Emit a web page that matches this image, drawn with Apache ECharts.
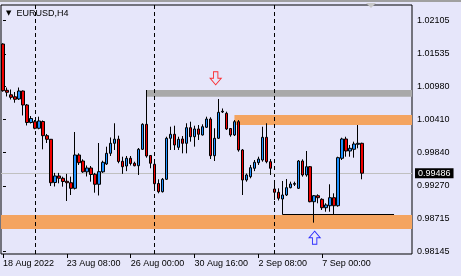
<!DOCTYPE html>
<html>
<head>
<meta charset="utf-8">
<script src="https://cdn.jsdelivr.net/npm/echarts@6/dist/echarts.min.js"></script>
<style>
html,body{margin:0;padding:0;background:#E6E6FA;}
#chart{width:461px;height:276px;}
</style>
</head>
<body>
<div id="chart"></div>
<script>
// EURUSD H4 bars, 18 Aug 2022 16:00 .. 8 Sep 2022 16:00
var barOpen = [1.01704,1.00909,1.00832,1.00798,1.00760,1.00897,1.00657,1.00356,1.00370,1.00257,
    1.00373,1.00130,1.00068,0.99326,0.99438,0.99398,0.99347,0.99322,0.99226,0.99798,
    0.99695,0.99509,0.99575,0.99467,0.99295,0.99509,0.99644,0.99827,0.99999,1.00070,
    0.99690,0.99609,0.99742,0.99656,0.99614,0.99896,1.00325,0.99790,0.99639,0.99309,
    0.99168,0.99381,1.00085,1.00154,0.99930,1.00073,0.99999,1.00267,1.00112,1.00245,
    1.00142,1.00274,1.00416,0.99786,1.00085,1.00537,1.00514,1.00253,1.00142,1.00370,
    0.99884,0.99369,0.99426,0.99570,0.99666,0.99712,1.00102,0.99683,0.99214,0.99158,
    0.99043,0.99111,0.99237,0.99295,0.99226,0.99695,0.99455,0.99597,0.98996,0.99099,
    0.99037,0.98893,0.98927,0.99065,0.98927,0.99742,1.00073,0.99867,0.99896,0.99982,
    0.99999];
var barClose = [1.00902,1.00875,1.00789,1.00755,1.00897,1.00657,1.00356,1.00425,1.00257,1.00382,
    1.00130,1.00068,0.99322,0.99438,0.99398,0.99343,0.99322,0.99226,0.99798,0.99666,
    0.99509,0.99575,0.99463,0.99295,0.99512,0.99673,0.99827,0.99999,1.00070,0.99687,
    0.99597,0.99742,0.99652,0.99614,0.99896,1.00325,0.99781,0.99656,0.99305,0.99168,
    0.99381,1.00085,1.00154,0.99970,1.00068,0.99999,1.00267,1.00112,1.00245,1.00154,
    1.00284,1.00416,0.99786,1.00085,1.00531,1.00549,1.00245,1.00142,1.00370,0.99884,
    0.99369,0.99455,0.99580,0.99673,0.99729,1.00102,0.99683,0.99570,0.99158,0.99055,
    0.99111,0.99237,0.99300,0.99309,0.99695,0.99455,0.99597,0.98996,0.99099,0.99065,
    0.98893,0.98940,0.99065,0.98927,0.99752,1.00073,0.99867,0.99913,0.99987,0.99999,
    0.99486];
var barLow = [1.00885,1.00803,1.00751,1.00696,1.00743,1.00477,1.00305,1.00339,1.00240,1.00240,
    0.99896,1.00004,0.99266,0.99257,0.99312,0.99254,0.99008,0.99111,0.99206,0.99627,
    0.99491,0.99429,0.99340,0.99151,0.99103,0.99491,0.99627,0.99781,0.99884,0.99656,
    0.99474,0.99521,0.99618,0.99604,0.99455,0.99884,0.99752,0.99570,0.99237,0.99140,
    0.99154,0.99369,0.99884,0.99884,0.99884,0.99827,0.99827,1.00027,0.99941,1.00056,
    1.00133,1.00262,0.99729,0.99695,1.00073,1.00520,1.00228,1.00112,1.00124,0.99855,
    0.99111,0.99340,0.99398,0.99521,0.99627,0.99683,0.99656,0.99455,0.99025,0.99017,
    0.98780,0.99094,0.99226,0.99266,0.99214,0.99426,0.99426,0.98986,0.98636,0.98969,
    0.98854,0.98824,0.98824,0.98768,0.98910,0.99712,0.99769,0.99769,0.99752,0.99913,
    0.99381];
var barHigh = [1.01716,1.00957,1.00923,1.00880,1.00957,1.00906,1.00674,1.00468,1.00399,1.00456,
    1.00391,1.00159,1.00073,0.99491,0.99491,0.99426,0.99474,0.99426,1.00193,0.99827,
    0.99724,0.99618,0.99609,0.99491,1.00004,0.99700,0.99941,1.00099,1.00343,1.00130,
    0.99769,0.99781,0.99781,0.99683,0.99918,1.00343,1.00914,0.99798,0.99661,0.99381,
    0.99403,1.00112,1.00284,1.00301,1.00112,1.00124,1.00343,1.00370,1.00301,1.00313,
    1.00325,1.00456,1.00446,1.00257,1.00760,1.00597,1.00542,1.00262,1.00399,1.00399,
    0.99901,0.99481,0.99627,0.99712,0.99769,1.00284,1.00343,0.99729,0.99369,0.99226,
    0.99352,0.99386,0.99340,0.99340,0.99712,0.99724,0.99867,0.99609,0.99111,0.99123,
    0.99055,0.98969,0.99295,0.99140,0.99769,1.00095,1.00112,0.99970,1.00027,1.00313,
    1.00009];

var priceTicks = [0.98145,0.98715,0.99270,0.99840,1.00410,1.00980,1.01535,1.02105];
var bidPrice = 0.99486;
var weekStarts = [8, 38, 68];          // bar index of each Monday 00:00
var zoneFrom = [36, 58, -0.5];         // rectangles (bar index where they start)
var zoneHigh = [1.00915, 1.00485, 0.98768];
var zoneLow = [1.00800, 1.00313, 0.98527];
var arrowBar = [53.3, 78.1];
var arrowPrice = [1.01115, 0.98378];
var supportFrom = 70, supportTo = 98, supportPrice = 0.98780;
var emptySlots = 12;

var months = ['Jan','Feb','Mar','Apr','May','Jun','Jul','Aug','Sep','Oct','Nov','Dec'];
var categories = [];
var t = Date.UTC(2022, 7, 18, 16);
while (categories.length < barOpen.length) {
    var d = new Date(t);
    var wd = d.getUTCDay();
    if (wd !== 0 && wd !== 6) {
        var hh = d.getUTCHours();
        if (categories.length === 0) {
            categories.push(d.getUTCDate() + ' ' + months[d.getUTCMonth()] + ' ' + d.getUTCFullYear());
        } else {
            categories.push(d.getUTCDate() + ' ' + months[d.getUTCMonth()] + ' ' + (hh < 10 ? '0' : '') + hh + ':00');
        }
    }
    t += 4 * 3600 * 1000;
}
for (var i = 0; i < emptySlots; i++) categories.push('');

var candles = [];
for (var i = 0; i < barOpen.length; i++) {
    candles.push([barOpen[i], barClose[i], barLow[i], barHigh[i]]);
}

var zoneColors = ['#A9A9A9', '#F4A460', '#F4A460'];
var zones = [];
for (var i = 0; i < zoneFrom.length; i++) {
    zones.push([
        {xAxis: zoneFrom[i], yAxis: zoneHigh[i], itemStyle: {color: zoneColors[i], opacity: 1}},
        {xAxis: categories.length - 0.5, yAxis: zoneLow[i]}
    ]);
}

var downArrow = 'path://M3,0 L7,0 L7,6 L10,6 L5,12 L0,6 L3,6 Z';
var upArrow = 'path://M5,0 L10,6 L7,6 L7,12 L3,12 L3,6 L0,6 Z';
var arrows = [
    {value: [arrowBar[0], arrowPrice[0]], symbol: downArrow, itemStyle: {borderColor: '#FF0000'}},
    {value: [arrowBar[1], arrowPrice[1]], symbol: upArrow, itemStyle: {borderColor: '#0000FF'}}
];

var lines = [];
weekStarts.forEach(function (w) {
    lines.push({xAxis: w, lineStyle: {color: '#000', type: [4, 3], width: 1}});
});
lines.push([
    {coord: [supportFrom, supportPrice], lineStyle: {color: '#000', type: 'solid', width: 1}},
    {coord: [supportTo, supportPrice]}
]);

function showLabel(index) {
    return index % 16 === 0 && index < barOpen.length;
}

var chart = echarts.init(document.getElementById('chart'));
var option = {
    backgroundColor: '#E6E6FA',
    animation: false,
    textStyle: {fontFamily: 'Liberation Sans'},
    title: {
        text: '{t|▼}EURUSD,H4',
        left: 6,
        top: 9,
        padding: 0,
        textStyle: {
            fontSize: 9, fontWeight: 'normal', color: '#000', fontFamily: 'Liberation Sans',
            rich: {t: {fontSize: 7, fontFamily: 'DejaVu Sans', color: '#000', padding: [0, 5, 0, 0]}}
        }
    },
    graphic: [
        {type: 'rect', shape: {x: 0, y: 0, width: 461, height: 2}, style: {fill: '#A0A0A0'}, silent: true},
        {type: 'polygon', shape: {points: [[366, 3], [376, 3], [371, 8]]}, style: {fill: '#C8C8C8'}, silent: true}
    ],
    grid: {
        left: 1, top: 5, width: 411, height: 249,
        show: true, borderColor: '#000', borderWidth: 1, backgroundColor: '#E6E6FA'
    },
    xAxis: [{
        type: 'category',
        data: categories,
        boundaryGap: true,
        axisLine: {show: false},
        splitLine: {show: false},
        axisTick: {show: true, alignWithLabel: true, interval: showLabel, length: 4, lineStyle: {color: '#000'}},
        axisLabel: {interval: showLabel, align: 'left', margin: 5, fontSize: 9, color: '#000'}
    }, {
        type: 'value', min: -0.5, max: categories.length - 0.5, show: false
    }],
    yAxis: {
        type: 'value',
        position: 'right',
        min: 0.98098,
        max: 1.02374,
        axisLine: {show: false},
        splitLine: {show: false},
        axisTick: {show: true, customValues: priceTicks, length: 3, lineStyle: {color: '#000'}},
        axisLabel: {
            customValues: priceTicks, fontSize: 9, margin: 5, color: '#000',
            formatter: function (v) { return v.toFixed(5); }
        }
    },
    series: [{
        type: 'scatter',
        xAxisIndex: 1,
        yAxisIndex: 0,
        data: arrows,
        symbolSize: [11, 13],
        itemStyle: {color: 'rgba(0,0,0,0)', borderWidth: 1},
        z: 4,
        markArea: {silent: true, z: 1, data: zones},
        markLine: {silent: true, z: 1, precision: 5, symbol: ['none', 'none'], label: {show: false}, data: lines}
    }, {
        type: 'candlestick',
        xAxisIndex: 0,
        yAxisIndex: 0,
        data: candles,
        barWidth: 3,
        z: 3,
        itemStyle: {
            color: '#1E90FF', color0: '#F00000',
            borderColor: '#000', borderColor0: '#000', borderWidth: 1
        },
        markLine: {
            silent: true, z: 1, precision: 5, symbol: ['none', 'none'],
            data: [{
                yAxis: bidPrice,
                lineStyle: {color: '#C0C0C0', type: 'solid', width: 1},
                label: {
                    show: true, position: 'end', distance: 3,
                    backgroundColor: '#000', color: '#fff', fontSize: 9, padding: [1, 3, 0, 3],
                    formatter: function (p) { return p.value.toFixed(5); }
                }
            }]
        }
    }]
};
chart.setOption(option);
</script>
</body>
</html>
